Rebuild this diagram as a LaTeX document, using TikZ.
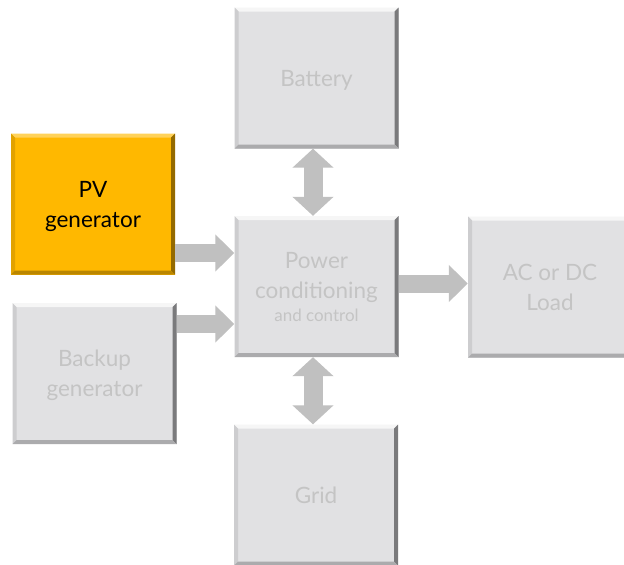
\documentclass[tikz,border=0pt]{standalone}
\usepackage{fontspec}
\setmainfont{Lato}
\usetikzlibrary{arrows.meta}
\definecolor{boxfill}{HTML}{E1E1E3}
\definecolor{boxtext}{HTML}{C4C4C4}
\definecolor{flowgray}{HTML}{C0C0C0}
\definecolor{pvfill}{HTML}{FFB800}
\definecolor{gtop}{HTML}{F6F6F6}
\definecolor{gleft}{HTML}{CDCDCF}
\definecolor{gright}{HTML}{7A7A7C}
\definecolor{gbottom}{HTML}{ABABAD}
\definecolor{ytop}{HTML}{FFD25A}
\definecolor{yleft}{HTML}{E2A200}
\definecolor{yright}{HTML}{946A00}
\definecolor{ybottom}{HTML}{BA8600}
\tikzset{
  bevel/.style n args={4}{path picture={
    \coordinate (bnw) at (path picture bounding box.north west);
    \coordinate (bne) at (path picture bounding box.north east);
    \coordinate (bsw) at (path picture bounding box.south west);
    \coordinate (bse) at (path picture bounding box.south east);
    \fill[#1] (bnw) -- (bne) -- ([shift={(-4pt,-4pt)}]bne) -- ([shift={(4pt,-4pt)}]bnw) -- cycle;
    \fill[#2] (bnw) -- ([shift={(4pt,-4pt)}]bnw) -- ([shift={(4pt,4pt)}]bsw) -- (bsw) -- cycle;
    \fill[#3] (bne) -- (bse) -- ([shift={(-4pt,4pt)}]bse) -- ([shift={(-4pt,-4pt)}]bne) -- cycle;
    \fill[#4] (bsw) -- ([shift={(4pt,4pt)}]bsw) -- ([shift={(-4pt,4pt)}]bse) -- (bse) -- cycle;
  }},
  blockbox/.style={rectangle, inner sep=0pt, minimum width=164pt, minimum height=141pt,
    fill=boxfill, text=boxtext, align=center, font=\fontsize{22.5}{30}\selectfont,
    text depth=-10pt, bevel={gtop}{gleft}{gright}{gbottom}},
  pvbox/.style={blockbox, fill=pvfill, text=black, bevel={ytop}{yleft}{yright}{ybottom}},
  flow/.style={draw=flowgray, line width=18pt, -{Triangle[width=36pt,length=19pt]}},
  vflow/.style={draw=flowgray, line width=19pt, {Triangle[width=40pt,length=19pt]}-{Triangle[width=40pt,length=19pt]}},
}
\begin{document}
\begin{tikzpicture}[x=1pt,y=-1pt]
\useasboundingbox (0,0) rectangle (624,565);
\clip (0,0) rectangle (624,565);
\fill[white] (0,0) rectangle (624,565);

\node[blockbox] (batt) at (316.5,78) {Battery};
\node[pvbox] (pv) at (93,204) {PV\\generator};
\node[blockbox] (power) at (316.5,286.5) {Power\\conditioning\\[-7pt]{\fontsize{17}{20}\selectfont and control}};
\node[blockbox] (backup) at (94.5,373.5) {Backup\\generator};
\node[blockbox] (load) at (550,287) {AC or DC\\Load};
\node[blockbox] (grid) at (316,495) {Grid};

\coordinate (pvout) at ([yshift=-49pt]pv.east);
\coordinate (bkout) at ([yshift=49.5pt]backup.east);
\coordinate (pwout) at ([yshift=3pt]power.east);
\coordinate (btout) at ([xshift=-3.5pt]batt.south);
\coordinate (grout) at ([xshift=-3pt]grid.north);

\draw[flow] (pvout) -- (pvout -| power.west);
\draw[flow] (bkout) -- (bkout -| power.west);
\draw[flow] (pwout) -- (pwout -| load.west);
\draw[vflow] (btout) -- (btout |- power.north);
\draw[vflow] (grout) -- (grout |- power.south);
\end{tikzpicture}
\end{document}
